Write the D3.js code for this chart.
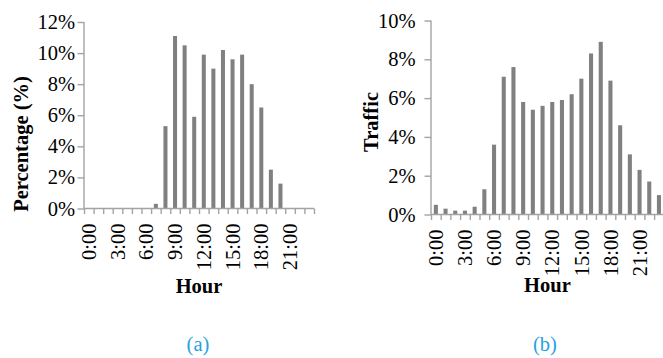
<!DOCTYPE html>
<html>
<head>
<meta charset="utf-8">
<script src="https://cdn.jsdelivr.net/npm/d3@7"></script>
<style>
  body { margin: 0; background: #fff; }
  svg text { font-family: 'Liberation Serif', 'Times New Roman', serif; }
</style>
</head>
<body>
<div id="chart"></div>
<script>
const hours = d3.range(24).map((h) => h + ':00');
const hourLabels = ['0:00', '3:00', '6:00', '9:00', '12:00', '15:00', '18:00', '21:00'];

// (a) percentage per hour
const percentValues = [0, 0, 0, 0, 0, 0, 0, 0.3, 5.3, 11.1, 10.5, 5.9, 9.9, 9.0, 10.2, 9.6, 9.9, 8.0, 6.5, 2.5, 1.6, 0, 0, 0];
const percentTicks = [0, 2, 4, 6, 8, 10, 12];

// (b) traffic per hour
const trafficValues = [0.5, 0.3, 0.2, 0.2, 0.4, 1.3, 3.6, 7.1, 7.6, 5.8, 5.4, 5.6, 5.8, 5.9, 6.2, 7.0, 8.3, 8.9, 6.9, 4.6, 3.1, 2.3, 1.7, 1.0];
const trafficTicks = [0, 2, 4, 6, 8, 10];

const width = 663;
const height = 358;
const axisColor = '#a3a3a3';
const barColor = '#808080';
const fontSize = 20.5;

const svg = d3
  .select('#chart')
  .append('svg')
  .attr('width', width)
  .attr('height', height);

function drawPanel(opts) {
  const g = svg.append('g');

  const x = d3
    .scaleBand()
    .domain(hours)
    .range([opts.left, opts.right])
    .paddingInner(0.58)
    .paddingOuter(0.29);

  const xEdge = d3.scaleLinear().domain([0, hours.length]).range([opts.left, opts.right]);

  const y = d3.scaleLinear().domain([0, opts.ymax]).range([opts.bottom, opts.top]);

  // bars
  g.selectAll('rect.bar')
    .data(opts.values)
    .join('rect')
    .attr('class', 'bar')
    .attr('x', (d, i) => x(hours[i]))
    .attr('width', x.bandwidth())
    .attr('y', (d) => y(d))
    .attr('height', (d) => opts.bottom - y(d))
    .attr('fill', barColor);

  // y axis
  const yAxis = g
    .append('g')
    .attr('transform', `translate(${opts.left},0)`)
    .call(
      d3
        .axisLeft(y)
        .tickValues(opts.yticks)
        .tickSize(6.5)
        .tickPadding(opts.yPad)
        .tickFormat((d) => d + '%'),
    );
  yAxis.select('.domain').attr('stroke', axisColor).attr('stroke-width', 1.4).attr('d', `M0,${opts.top}V${opts.bottom}`);
  yAxis.selectAll('.tick line').attr('stroke', axisColor).attr('stroke-width', 1.4);
  yAxis
    .selectAll('.tick text')
    .attr('fill', '#000')
    .style('font-size', fontSize + 'px')
    .style('font-family', "'Liberation Serif', 'Times New Roman', serif");

  // x axis (ticks at category edges)
  const xAxis = g
    .append('g')
    .attr('transform', `translate(0,${opts.bottom})`)
    .call(d3.axisBottom(xEdge).tickValues(d3.range(hours.length + 1)).tickSize(5.5).tickFormat(''));
  xAxis.select('.domain').attr('stroke', axisColor).attr('stroke-width', 1.4).attr('d', `M${opts.left},0H${opts.right}`);
  xAxis.selectAll('.tick line').attr('stroke', axisColor).attr('stroke-width', 1.4);

  // rotated hour labels
  g.selectAll('text.hour')
    .data(hourLabels)
    .join('text')
    .attr('class', 'hour')
    .attr('text-anchor', 'end')
    .attr('dy', '0.35em')
    .attr('transform', (d) => `translate(${x(d) + x.bandwidth() / 2},${opts.bottom + 15}) rotate(-90)`)
    .style('font-size', fontSize + 'px')
    .text((d) => d);

  // axis titles
  g.append('text')
    .attr('text-anchor', 'middle')
    .attr('transform', `translate(${opts.ytitleX},${opts.ytitleY}) rotate(-90)`)
    .style('font-size', fontSize + 'px')
    .style('font-weight', 'bold')
    .text(opts.ytitle);

  g.append('text')
    .attr('text-anchor', 'middle')
    .attr('x', (opts.left + opts.right) / 2)
    .attr('y', opts.hourY)
    .style('font-size', fontSize + 'px')
    .style('font-weight', 'bold')
    .text('Hour');

  // panel caption
  g.append('text')
    .attr('text-anchor', 'middle')
    .attr('x', opts.captionX)
    .attr('y', 351)
    .attr('fill', '#26a2e0')
    .style('font-size', fontSize + 'px')
    .text(opts.caption);
}

drawPanel({
  left: 84,
  right: 314,
  top: 22,
  bottom: 208.5,
  ymax: 12,
  yticks: percentTicks,
  yPad: 2.5,
  values: percentValues,
  ytitle: 'Percentage (%)',
  ytitleX: 28,
  ytitleY: 144,
  hourY: 293,
  caption: '(a)',
  captionX: 198,
});

drawPanel({
  left: 431,
  right: 663.8,
  top: 20.5,
  bottom: 214.5,
  ymax: 10,
  yticks: trafficTicks,
  yPad: 9,
  values: trafficValues,
  ytitle: 'Traffic',
  ytitleX: 378,
  ytitleY: 122,
  hourY: 292,
  caption: '(b)',
  captionX: 545,
});
</script>
</body>
</html>
